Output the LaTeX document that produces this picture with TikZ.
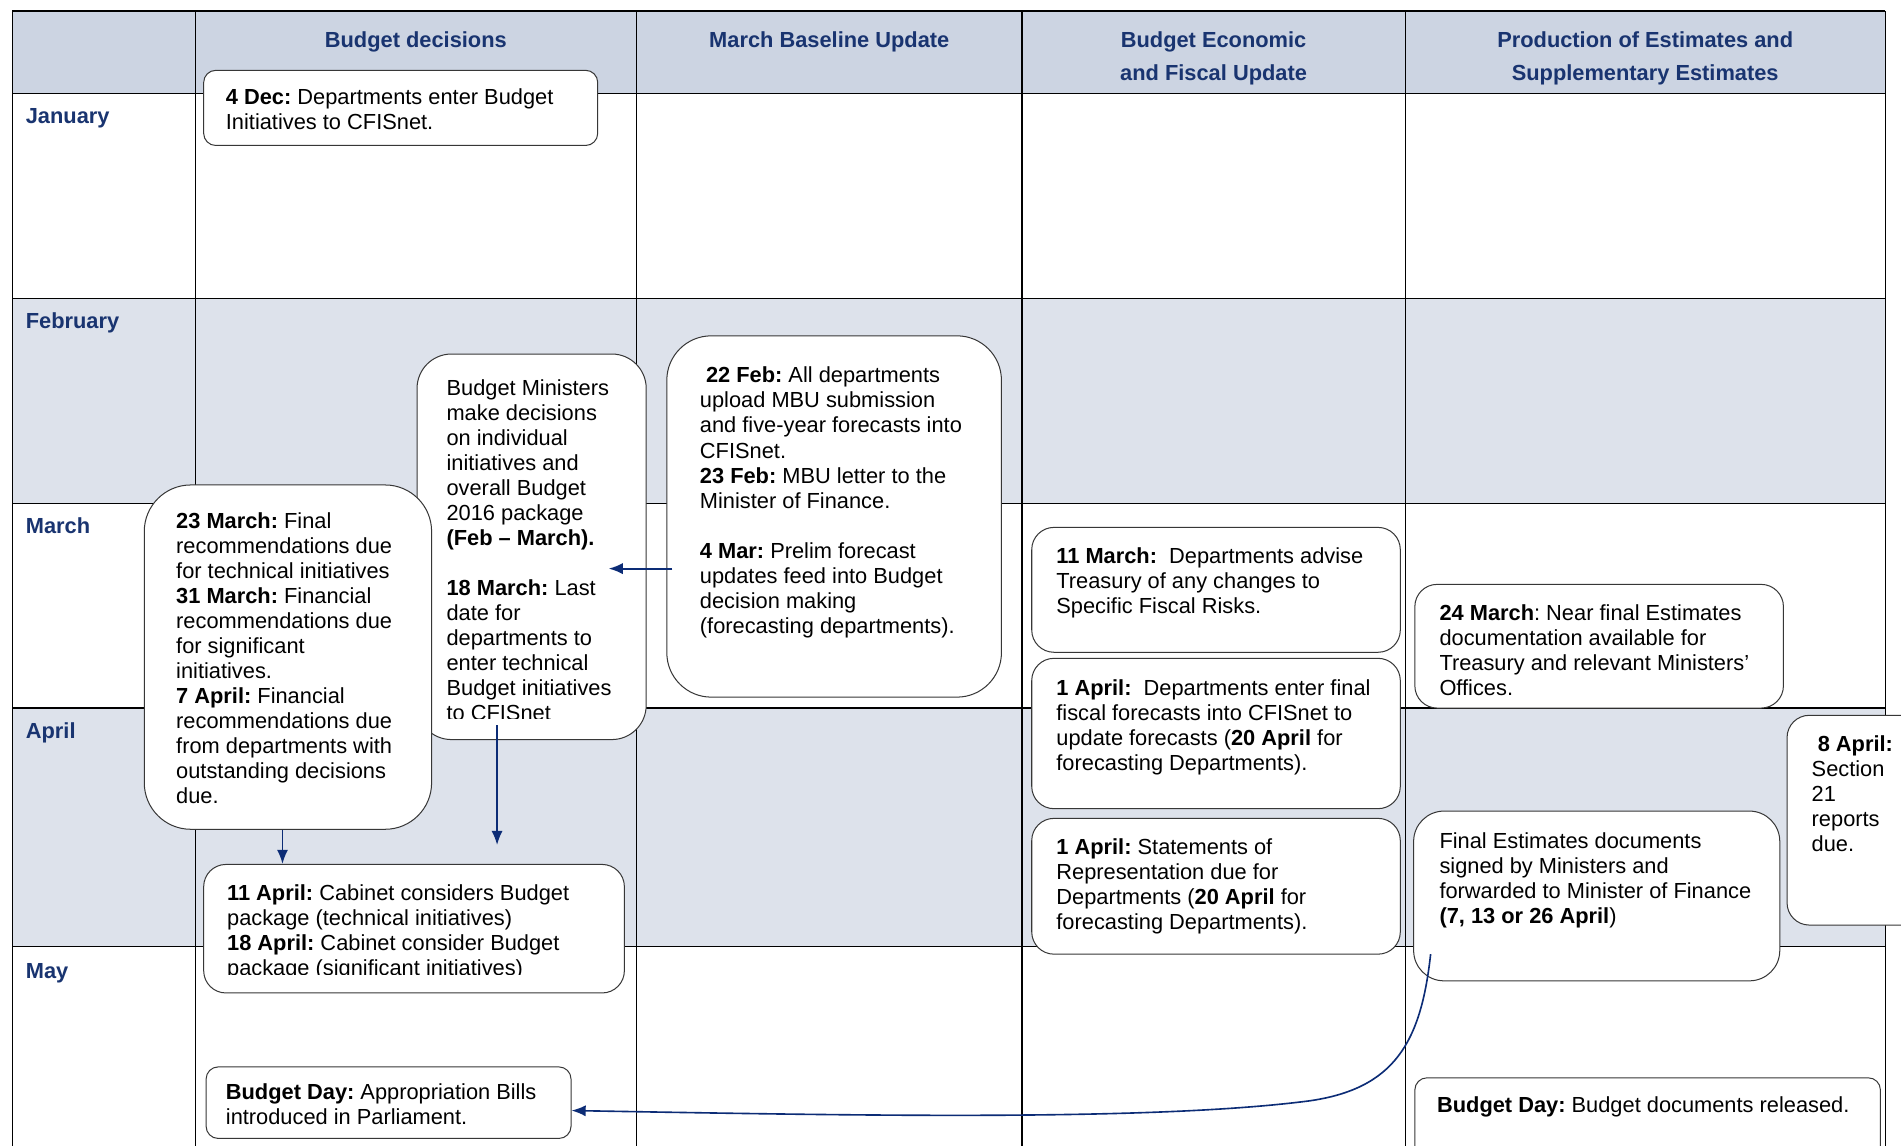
\documentclass[tikz,border=0pt]{standalone}
\usepackage{fontspec}
\setmainfont{Liberation Sans}
\usetikzlibrary{fit,arrows.meta}
\definecolor{headfill}{RGB}{204,212,226}
\definecolor{bandfill}{RGB}{221,226,235}
\definecolor{navy}{RGB}{25,52,112}
\definecolor{flowblue}{RGB}{12,44,118}
\definecolor{boxline}{RGB}{55,55,55}
\newcommand{\bodysize}{\fontsize{10.8}{12.4}\selectfont\frenchspacing}

\begin{document}
\begin{tikzpicture}[x=0.6pt,y=-0.6pt,
  evbox/.style={draw=boxline,line width=0.5pt,fill=white,inner sep=0pt},
  txt/.style={inner sep=0pt,anchor=north west,align=left,font=\bodysize},
  hdr/.style={inner sep=0pt,anchor=north,align=center,font=\bodysize\bfseries,text=navy},
  month/.style={inner sep=0pt,anchor=north west,font=\bodysize\bfseries,text=navy},
  grid/.style={line width=0.6pt,black},
  flow/.style={draw=flowblue,line width=0.9pt,-{Latex[length=7pt,width=5.5pt]}}
]
\useasboundingbox (0,0) rectangle (1568,945);
\clip (0,0) rectangle (1568,945);
\fill[white] (0,0) rectangle (1568,945);

% header band and shaded month rows
\fill[headfill] (10,9) rectangle (1555,77);
\fill[bandfill] (10,246) rectangle (1555,415);
\fill[bandfill] (10,584) rectangle (1555,781);

% table rules
\foreach \y in {9,77,246,415,584,781} \draw[grid] (10,\y) -- (1555,\y);
\foreach \x in {10,161,525,843,1159,1555} \draw[grid] (\x,9) -- (\x,960);

% column headings
\node[hdr] (hBud)  at (343,24)  {\strut Budget decisions};
\node[hdr] (hMbu)  at (684,24)  {\strut March Baseline Update};
\node[hdr] (hBefu) at (1001,24) {\strut Budget Economic\\[4.4pt]\strut and Fiscal Update};
\node[hdr] (hEst)  at (1357,24) {\strut Production of Estimates and\\[4.4pt]\strut Supplementary Estimates};

% month labels
\node[month] (mJan) at (21,87)  {\strut January};
\node[month] (mFeb) at (21,256) {\strut February};
\node[month] (mMar) at (21,425) {\strut March};
\node[month] (mApr) at (21,594) {\strut April};
\node[month] (mMay) at (21,792) {\strut May};

% event boxes
\node[evbox,rounded corners=6pt,fit={(168,58)(493,120)}]   (dec) {};
\node[evbox,rounded corners=17pt,fit={(344,292)(533,610)}] (bm)  {};
\node[evbox,rounded corners=22pt,fit={(550,277)(826,575)}] (feb) {};
\node[evbox,rounded corners=23pt,fit={(119,400)(356,684)}] (mar) {};
\node[evbox,rounded corners=11pt,fit={(851,435)(1155,538)}] (fr1) {};
\node[evbox,rounded corners=11pt,fit={(851,543)(1155,667)}] (fr2) {};
\node[evbox,rounded corners=11pt,fit={(851,675)(1155,787)}] (fr3) {};
\node[evbox,rounded corners=11pt,fit={(1167,482)(1471,584)}] (es1) {};
\node[evbox,rounded corners=11pt,fit={(1474,590)(1620,763)}] (es2) {};
\node[evbox,rounded corners=15pt,fit={(1166,669)(1468,809)}] (es3) {};
\node[evbox,rounded corners=11pt,fit={(168,713)(515,819)}]  (cab) {};
\node[evbox,rounded corners=6pt,fit={(170,880)(471,939)}]   (bd1) {};
\node[evbox,rounded corners=6pt,fit={(1167,889)(1551,990)}] (bd2) {};

% event texts
\node[txt] (decT) at (186,71) {\strut\textbf{4 Dec:} Departments enter Budget\\Initiatives to CFISnet.};

\begin{scope}
  \clip (344,292) rectangle (533,593);
  \node[txt] (bmT) at (368,311) {\strut Budget Ministers\\make decisions\\on individual\\initiatives and\\overall Budget\\2016 package\\\textbf{(Feb – March).}\\[12.4pt]\textbf{18 March:} Last\\date for\\departments to\\enter technical\\Budget initiatives\\to CFISnet};
\end{scope}

\node[txt] (febT) at (577,301) {\strut\kern3pt\textbf{22 Feb:} All departments\\upload MBU submission\\and five-year forecasts into\\CFISnet.\\\textbf{23 Feb:} MBU letter to the\\Minister of Finance.\\[12.4pt]\textbf{4 Mar:} Prelim forecast\\updates feed into Budget\\decision making\\(forecasting departments).};

\node[txt] (marT) at (145,421) {\strut\textbf{23 March:} Final\\recommendations due\\for technical initiatives\\\textbf{31 March:} Financial\\recommendations due\\for significant\\initiatives.\\\textbf{7 April:} Financial\\recommendations due\\from departments with\\outstanding decisions\\due.};

\node[txt] (fr1T) at (871,450) {\strut\textbf{11 March:}\ \ Departments advise\\Treasury of any changes to\\Specific Fiscal Risks.};
\node[txt] (fr2T) at (871,559) {\strut\textbf{1 April:}\ \ Departments enter final\\fiscal forecasts into CFISnet to\\update forecasts (\textbf{20 April} for\\forecasting Departments).};
\node[txt] (fr3T) at (871,690) {\strut\textbf{1 April:} Statements of\\Representation due for\\Departments (\textbf{20 April} for\\forecasting Departments).};

\node[txt] (es1T) at (1187,497) {\strut\textbf{24 March}: Near final Estimates\\documentation available for\\Treasury and relevant Ministers’\\Offices.};
\node[txt] (es2T) at (1494,605) {\strut\kern3pt\textbf{8 April:}\\Section\\21\\reports\\due.};
\node[txt] (es3T) at (1187,685) {\strut Final Estimates documents\\signed by Ministers and\\forwarded to Minister of Finance\\\textbf{(7, 13 or 26 April})};

\begin{scope}
  \clip (168,713) rectangle (515,804);
  \node[txt] (cabT) at (187,728) {\strut\textbf{11 April:} Cabinet considers Budget\\package (technical initiatives)\\\textbf{18 April:} Cabinet consider Budget\\package (significant initiatives)};
\end{scope}

\node[txt] (bd1T) at (186,892)  {\strut\textbf{Budget Day:} Appropriation Bills\\introduced in Parliament.};
\node[txt] (bd2T) at (1185,903) {\strut\textbf{Budget Day:} Budget documents released.};

% flow arrows
\coordinate (bmIn) at (502,469);
\draw[flow] ([xshift=3pt]feb.west |- bmIn) -- (bmIn);

\coordinate (bmOut) at (410,598);
\coordinate (cabIn) at (410,697);
\draw[flow] (bmOut) -- (cabIn);

\coordinate (colA) at (233,0);
\draw[flow] (mar.south -| colA) -- (cab.north -| colA);

\coordinate (finOut) at (1180,787);
\draw[flow,line width=0.8pt] (finOut) .. controls (1172,860) and (1150,898) .. (1080,908)
   .. controls (950,925) and (700,920) .. ([yshift=-3.9pt]bd1.east);
\end{tikzpicture}
\end{document}
